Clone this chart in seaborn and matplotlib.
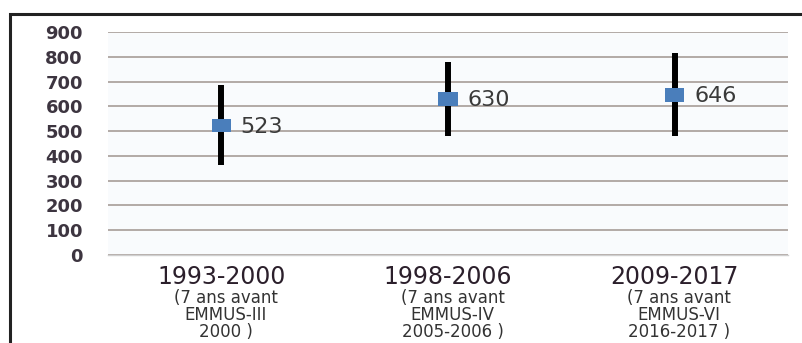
import numpy as np
import pandas as pd
import matplotlib
matplotlib.use("Agg")
import matplotlib.pyplot as plt
import matplotlib.patches as mpatches
import matplotlib.transforms as mtransforms
import seaborn as sns

# ---- data ----
periods = ["1993-2000", "1998-2006", "2009-2017"]
subtitles = ["(7 ans avant\nEMMUS-III\n2000 )",
             "(7 ans avant\nEMMUS-IV\n2005-2006 )",
             "(7 ans avant\nEMMUS-VI\n2016-2017 )"]
values = [523, 630, 646]
lower = [363, 481, 481]
upper = [686, 780, 814]
yticks = [0, 100, 200, 300, 400, 500, 600, 700, 800, 900]

df = pd.DataFrame({"period": periods, "value": values,
                   "low": lower, "high": upper})

sns.set_theme(style="white")
plt.rcParams["font.family"] = ["DejaVu Sans"]

fig = plt.figure(figsize=(8.02, 3.43), dpi=100)
ax = fig.add_axes([108/802, 1-255/343, (788-108)/802, (255-32)/343])
ax.set_facecolor("#f9fbfd")

# error bars (intervals)
ax.vlines(df["period"], df["low"], df["high"], color="black",
          linewidth=4.3, zorder=3)
# point estimates
rect = [(-1.4, -1), (1.4, -1), (1.4, 1), (-1.4, 1), (-1.4, -1)]
sns.scatterplot(data=df, x="period", y="value", marker=rect, s=190,
                color="#4a7ebb", edgecolor="none", linewidth=0, ax=ax,
                zorder=4)

for i, row in df.iterrows():
    ax.annotate(f"{row['value']}", xy=(i, row["value"]), xytext=(14, -1),
                textcoords="offset points", ha="left", va="center",
                fontsize=16, color="#3a3a3a", zorder=5)

ax.set_xlim(-0.5, 2.5)
ax.set_ylim(0, 900)
ax.set_yticks(yticks)
ax.set_yticklabels([str(t) for t in yticks], fontsize=13, fontweight="bold",
                   color="#3d3540")
ax.tick_params(axis="y", length=0, pad=18)
ax.set_xticks(range(len(periods)))
ax.set_xticklabels(periods, fontsize=17, color="#2b1f2b")
ax.tick_params(axis="x", length=0, pad=7)
ax.set_xlabel("")
ax.set_ylabel("")

ax.grid(axis="y", color="#a0958f", linewidth=1.1, zorder=0)
ax.grid(axis="x", visible=False)
ax.set_axisbelow(True)
for s in ["left", "right", "top"]:
    ax.spines[s].set_visible(False)
ax.spines["bottom"].set_color("#cfcfcf")
ax.spines["bottom"].set_linewidth(1.0)

trans = mtransforms.blended_transform_factory(ax.transData, ax.transAxes)
for i, sub in enumerate(subtitles):
    ax.text(i + 0.02, -0.152, sub, transform=trans, ha="center", va="top",
            fontsize=12, color="#333333", linespacing=0.93)

# outer frame
frame = mpatches.Rectangle((10/802, -0.2), 1.2, 1.2 - 14/343,
                           transform=fig.transFigure, fill=False,
                           edgecolor="#222222", linewidth=2.2,
                           clip_on=False)
fig.patches.append(frame)

fig.savefig("out.png", dpi=100, facecolor="white")
